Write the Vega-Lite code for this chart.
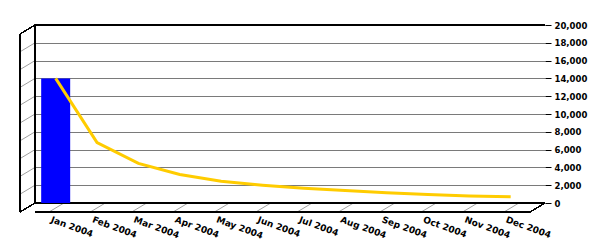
{
  "$schema": "https://vega.github.io/schema/vega-lite/v6.json",
  "width": 510,
  "height": 178,
  "autosize": {"type": "none"},
  "padding": {"left": 35, "top": 25, "right": 55, "bottom": 47},
  "background": "white",
  "config": {
    "view": {"stroke": null},
    "axisX": {"domain": false, "ticks": false, "grid": false, "labelAngle": 20, "labelAlign": "left", "labelBaseline": "top", "labelOffset": -3, "labelPadding": 12, "labelFont": "DejaVu Sans", "labelFontWeight": "bold", "labelFontSize": 9, "labelColor": "black", "title": null},
    "axisY": {"domain": false, "grid": true, "gridColor": "#7a7a7a", "gridOpacity": 1, "gridWidth": 1, "ticks": true, "tickColor": "black", "tickSize": 6, "labelPadding": 3, "labelFont": "DejaVu Sans", "labelFontWeight": "bold", "labelFontSize": 8.5, "labelColor": "black", "title": null}
  },
  "datasets": {
    "months": [
      {"month": "Jan 2004", "value": 14000},
      {"month": "Feb 2004", "value": 6800},
      {"month": "Mar 2004", "value": 4450},
      {"month": "Apr 2004", "value": 3200},
      {"month": "May 2004", "value": 2450},
      {"month": "Jun 2004", "value": 2000},
      {"month": "Jul 2004", "value": 1650},
      {"month": "Aug 2004", "value": 1400},
      {"month": "Sep 2004", "value": 1150},
      {"month": "Oct 2004", "value": 950},
      {"month": "Nov 2004", "value": 800},
      {"month": "Dec 2004", "value": 700}
    ],
    "wall": [
      {"v": 2000}, {"v": 4000}, {"v": 6000}, {"v": 8000}, {"v": 10000},
      {"v": 12000}, {"v": 14000}, {"v": 16000}, {"v": 18000}
    ]
  },
  "data": {"name": "months"},
  "resolve": {"axis": {"x": "independent", "y": "independent"}},
  "layer": [
    {
      "mark": {"type": "bar", "opacity": 0},
      "encoding": {
        "x": {"field": "month", "type": "ordinal", "sort": null, "title": null,
              "scale": {"paddingInner": 0, "paddingOuter": 0.165, "align": 0}},
        "y": {"field": "value", "type": "quantitative", "title": null,
              "scale": {"domain": [0, 20000], "nice": false},
              "axis": {"orient": "right", "values": [0, 2000, 4000, 6000, 8000, 10000, 12000, 14000, 16000, 18000, 20000], "format": ",.0f"}}
      }
    },
    {
      "data": {"name": "wall"},
      "mark": {"type": "rule", "color": "#a0a0a0", "strokeWidth": 1, "xOffset": -15, "yOffset": 9},
      "encoding": {
        "x": {"datum": "Jan 2004", "bandPosition": 0, "axis": null},
        "x2": {"datum": "Jan 2004", "bandPosition": 0},
        "y": {"field": "v", "type": "quantitative", "axis": null},
        "y2": {"field": "v"}
      }
    },
    {
      "mark": {"type": "rule", "color": "#a0a0a0", "strokeWidth": 1, "xOffset": -15, "yOffset": 9},
      "encoding": {
        "x": {"field": "month", "type": "ordinal", "sort": null, "bandPosition": 0.7, "axis": null},
        "x2": {"field": "month", "bandPosition": 0.7},
        "y": {"datum": 0, "axis": null},
        "y2": {"datum": 0}
      }
    },
    {
      "mark": {"type": "rule", "color": "black", "strokeWidth": 1},
      "encoding": {"y": {"datum": 20000, "axis": null}}
    },
    {
      "mark": {"type": "rule", "color": "black", "strokeWidth": 1},
      "encoding": {"y": {"datum": 0, "axis": null}}
    },
    {
      "mark": {"type": "rule", "color": "black", "strokeWidth": 1.2, "xOffset": -15, "yOffset": 9},
      "encoding": {"y": {"datum": 0, "axis": null}}
    },
    {
      "mark": {"type": "rule", "color": "black", "strokeWidth": 1},
      "encoding": {
        "x": {"datum": "Jan 2004", "bandPosition": 0, "axis": null},
        "y": {"datum": 0, "axis": null},
        "y2": {"datum": 20000}
      }
    },
    {
      "mark": {"type": "rule", "color": "black", "strokeWidth": 1.2, "xOffset": -15, "yOffset": 9, "y2Offset": 9},
      "encoding": {
        "x": {"datum": "Jan 2004", "bandPosition": 0, "axis": null},
        "y": {"datum": 0, "axis": null},
        "y2": {"datum": 20000}
      }
    },
    {
      "mark": {"type": "rule", "color": "black", "strokeWidth": 1, "xOffset": -15, "yOffset": 9},
      "encoding": {
        "x": {"datum": "Jan 2004", "bandPosition": 0, "axis": null},
        "x2": {"datum": "Jan 2004", "bandPosition": 0},
        "y": {"datum": 20000, "axis": null},
        "y2": {"datum": 20000}
      }
    },
    {
      "mark": {"type": "rule", "color": "black", "strokeWidth": 1, "xOffset": -15, "yOffset": 9},
      "encoding": {
        "x": {"datum": "Jan 2004", "bandPosition": 0, "axis": null},
        "x2": {"datum": "Jan 2004", "bandPosition": 0},
        "y": {"datum": 0, "axis": null},
        "y2": {"datum": 0}
      }
    },
    {
      "mark": {"type": "rule", "color": "black", "strokeWidth": 1, "xOffset": -15, "yOffset": 9},
      "encoding": {
        "x": {"datum": "Dec 2004", "bandPosition": 1.33, "axis": null},
        "x2": {"datum": "Dec 2004", "bandPosition": 1.33},
        "y": {"datum": 0, "axis": null},
        "y2": {"datum": 0}
      }
    },
    {
      "transform": [{"filter": "datum.month === 'Jan 2004'"}],
      "mark": {"type": "bar", "color": "#0000FF", "width": 29, "y2Offset": 5},
      "encoding": {
        "x": {"field": "month", "type": "ordinal", "sort": null, "axis": null},
        "y": {"field": "value", "type": "quantitative", "axis": null}
      }
    },
    {
      "mark": {"type": "line", "color": "#FFCC00", "strokeWidth": 3},
      "encoding": {
        "x": {"field": "month", "type": "ordinal", "sort": null, "axis": null},
        "y": {"field": "value", "type": "quantitative", "axis": null}
      }
    }
  ]
}
